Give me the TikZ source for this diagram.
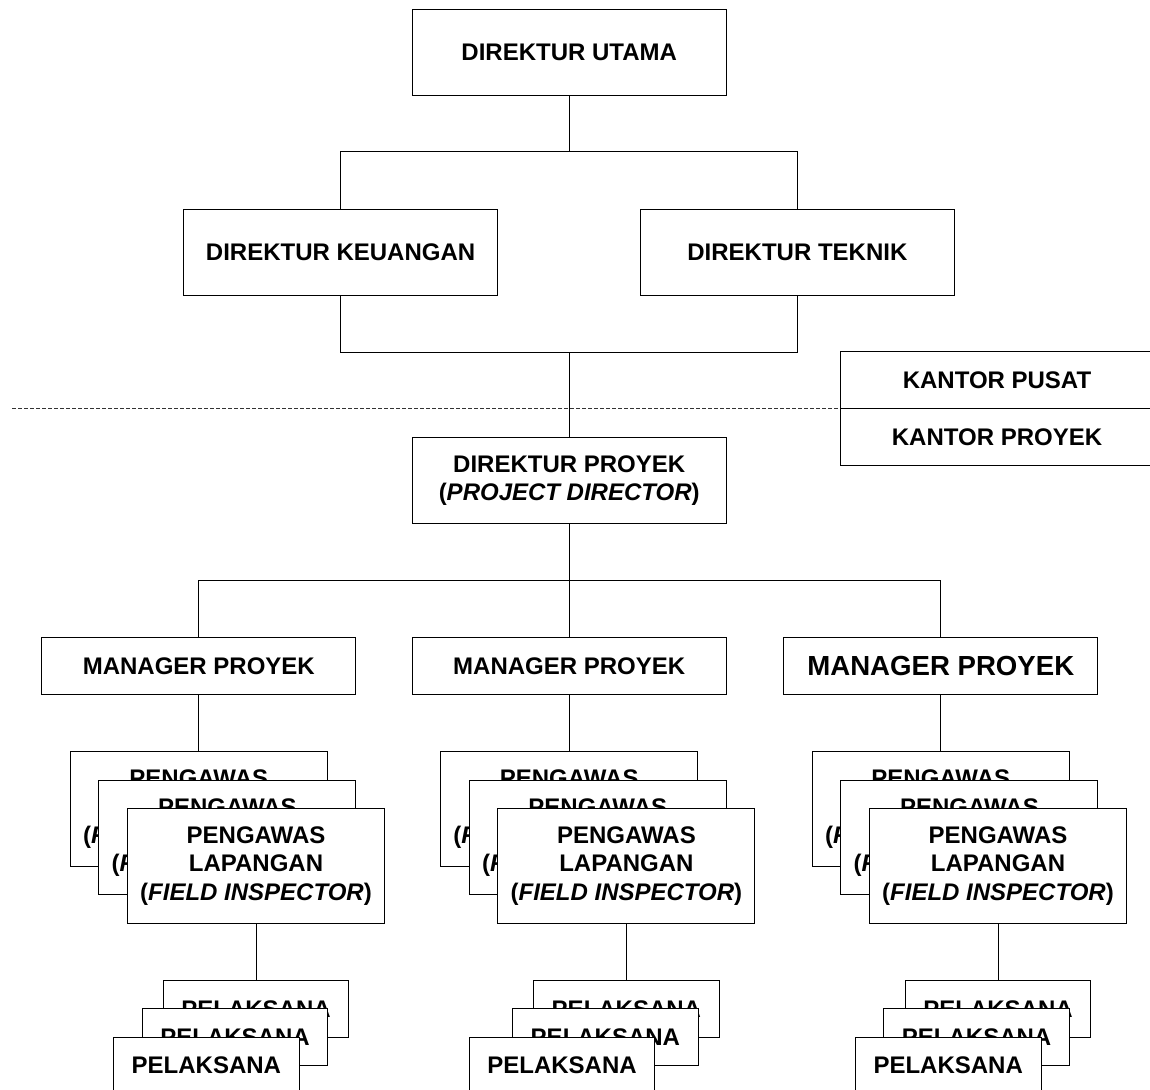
\documentclass[tikz,border=0pt]{standalone}
\usepackage{fontspec}
\setmainfont{Liberation Sans}
\usetikzlibrary{positioning}
\tikzset{
  every node/.style={font=\fontsize{12}{14.15}\selectfont\bfseries},
  box/.style={draw=black,line width=0.5pt,fill=white,inner sep=0pt,outer sep=0pt,align=center},
  dirbox/.style={box,minimum width=157pt,minimum height=43pt},
  mgrbox/.style={box,minimum width=157pt,minimum height=28.4pt},
  officebox/.style={box,minimum width=157pt,minimum height=28.5pt},
  inspbox/.style={box,minimum width=128.5pt,minimum height=57.3pt},
  workbox/.style={box,minimum width=92.9pt,minimum height=28.35pt},
  link/.style={draw=black,line width=0.5pt},
  boundary/.style={draw=black!80,line width=0.5pt,dash pattern=on 2pt off 1pt},
}
\newcommand{\insp}{PENGAWAS\\LAPANGAN\\(\textit{FIELD INSPECTOR})}

\begin{document}
\begin{tikzpicture}[x=1pt,y=1pt]
\useasboundingbox (0,0) rectangle (575,-545);

% head office
\node[dirbox] (du) at (284.6,-26.25) {DIREKTUR UTAMA};
\node[dirbox] (dk) at (170.3,-126.1) {DIREKTUR KEUANGAN};
\node[dirbox] (dt) at (398.7,-126.1) {DIREKTUR TEKNIK};

% office legend + boundary
\node[officebox,anchor=south west] (pusat) at (420,-204.5) {KANTOR PUSAT};
\node[officebox,below=0pt of pusat] (proyek) {KANTOR PROYEK};
\coordinate (cut) at (6.15,-204.5);
\draw[boundary] (cut) -- (pusat.south west);

% project office
\node[dirbox,below=171pt of du] (dp) {DIREKTUR PROYEK\\(\textit{PROJECT DIRECTOR})};
\node[mgrbox,below=57pt of dp] (m2) {MANAGER PROYEK};
\node[mgrbox,left=28.2pt of m2] (m1) {MANAGER PROYEK};
\node[mgrbox,right=28.8pt of m2,font=\fontsize{13.8}{16}\selectfont\bfseries] (m3) {MANAGER PROYEK};

% field inspectors
\node[inspbox,below=28.8pt of m1] (pg1a) {\insp};
\node[inspbox] (pg1b) at ([shift={(14.3,-14.2)}]pg1a) {\insp};
\node[inspbox] (pg1c) at ([shift={(14.3,-14.2)}]pg1b) {\insp};
\node[inspbox,below=28.8pt of m2] (pg2a) {\insp};
\node[inspbox] (pg2b) at ([shift={(14.3,-14.2)}]pg2a) {\insp};
\node[inspbox] (pg2c) at ([shift={(14.3,-14.2)}]pg2b) {\insp};
\node[inspbox,below=28.8pt of m3] (pg3a) {\insp};
\node[inspbox] (pg3b) at ([shift={(14.3,-14.2)}]pg3a) {\insp};
\node[inspbox] (pg3c) at ([shift={(14.3,-14.2)}]pg3b) {\insp};

% pelaksana
\node[workbox,below=28.65pt of pg1c] (pl1a) {PELAKSANA};
\node[workbox] (pl1b) at ([shift={(-10.5,-14.15)}]pl1a) {PELAKSANA};
\node[workbox] (pl1c) at ([shift={(-14.3,-14.15)}]pl1b) {PELAKSANA};
\node[workbox,below=28.65pt of pg2c] (pl2a) {PELAKSANA};
\node[workbox] (pl2b) at ([shift={(-10.5,-14.15)}]pl2a) {PELAKSANA};
\node[workbox] (pl2c) at ([shift={(-21.7,-14.15)}]pl2b) {PELAKSANA};
\node[workbox,below=28.65pt of pg3c] (pl3a) {PELAKSANA};
\node[workbox] (pl3b) at ([shift={(-10.7,-14.15)}]pl3a) {PELAKSANA};
\node[workbox] (pl3c) at ([shift={(-14.2,-14.15)}]pl3b) {PELAKSANA};

% connectors
\coordinate[below=28pt of du] (bus1);
\coordinate[above=42.7pt of dp] (bus2);
\coordinate[below=28.35pt of dp] (bus3);
\draw[link] (du.south) -- (bus1);
\draw[link] (dk.north) |- (bus1) -| (dt.north);
\draw[link] (dk.south) |- (bus2) -| (dt.south);
\draw[link] (bus2) -- (dp.north);
\draw[link] (dp.south) -- (m2.north);
\draw[link] (m1.north) |- (bus3) -| (m3.north);
\draw[link] (m1.south) -- (pg1a.north);
\draw[link] (m2.south) -- (pg2a.north);
\draw[link] (m3.south) -- (pg3a.north);
\draw[link] (pg1c.south) -- (pl1a.north);
\draw[link] (pg2c.south) -- (pl2a.north);
\draw[link] (pg3c.south) -- (pl3a.north);

\end{tikzpicture}
\end{document}
